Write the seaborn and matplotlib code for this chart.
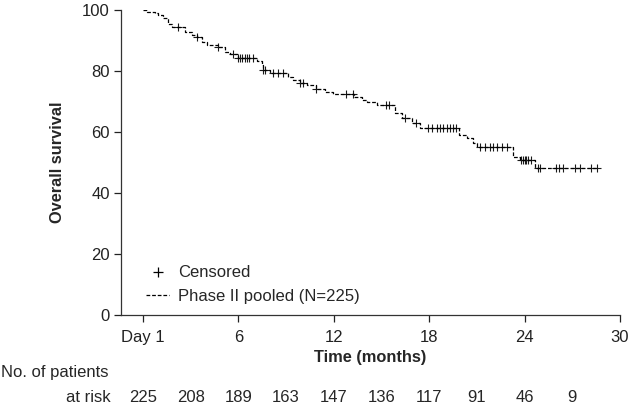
import pandas as pd
import matplotlib.pyplot as plt
import seaborn as sns
from matplotlib.lines import Line2D
import matplotlib.transforms as mtransforms

# Kaplan-Meier step curve (months, % surviving)
step_time = [0, 0.25, 0.75, 0.95, 1.26, 1.57, 1.82, 2.64, 3.08, 3.40, 3.71, 4.03,
             4.72, 5.16, 5.47, 5.97, 7.17, 7.48, 7.55, 8.0, 9.12, 9.43, 9.87,
             10.3, 10.9, 11.45, 11.95, 13.3, 13.8, 14.1, 14.7, 15.85, 16.3, 16.9,
             17.4, 19.9, 20.4, 20.75, 21.0, 23.3, 23.7, 24.65, 28.55]
step_surv = [100, 99.5, 99, 98.4, 97.4, 95.4, 94.4, 92.8, 91.8, 91.1, 89.5, 88.5,
             87.9, 86.2, 85.5, 84.3, 83.3, 82, 80.3, 79.3, 78, 77, 76,
             75.4, 74.2, 73.1, 72.4, 71.5, 70.5, 69.8, 68.9, 66.2, 64.6, 63,
             61.3, 59, 58, 56.4, 55.1, 51.8, 50.8, 48.2, 48.2]

# censored observations
cens_time = [2.2, 3.4, 4.72, 5.66, 5.97, 6.1, 6.23, 6.4, 6.54, 6.7, 6.9, 7.55, 7.7,
             8.2, 8.5, 8.8, 9.9, 10.1, 10.9, 12.8, 13.2, 15.3, 15.5, 16.5, 17.2,
             17.9, 18.2, 18.5, 18.7, 18.9, 19.1, 19.3, 19.5, 19.7,
             21.2, 21.5, 21.8, 22.0, 22.3, 22.6, 22.9,
             23.8, 23.9, 24.0, 24.1, 24.2, 24.4,
             24.85, 25.0, 26.0, 26.2, 26.4, 27.2, 27.5, 28.2, 28.55]
cens_surv = [94.4, 91.1, 87.9, 85.5, 84.3, 84.3, 84.3, 84.3, 84.3, 84.3, 84.3, 80.3, 80.3,
             79.3, 79.3, 79.3, 76, 76, 74.2, 72.4, 72.4, 68.9, 68.9, 64.6, 63,
             61.3, 61.3, 61.3, 61.3, 61.3, 61.3, 61.3, 61.3, 61.3,
             55.1, 55.1, 55.1, 55.1, 55.1, 55.1, 55.1,
             50.8, 50.8, 50.8, 50.8, 50.8, 50.8,
             48.2, 48.2, 48.2, 48.2, 48.2, 48.2, 48.2, 48.2, 48.2]

risk_time = [0, 3, 6, 9, 12, 15, 18, 21, 24, 27]
risk_n = [225, 208, 189, 163, 147, 136, 117, 91, 46, 9]

x_ticks = [0, 6, 12, 18, 24, 30]
x_ticklabels = ["Day 1", "6", "12", "18", "24", "30"]

FS = 12

sns.set_style("ticks")
plt.rcParams['font.family'] = ['Liberation Sans', 'DejaVu Sans']

fig = plt.figure(figsize=(6.3, 4.05), dpi=100)
ax = fig.add_axes([0.192, 0.222, 0.792, 0.753])

km = pd.DataFrame({"time": step_time, "surv": step_surv})
cens = pd.DataFrame({"time": cens_time, "surv": cens_surv})

sns.lineplot(data=km, x="time", y="surv", ax=ax, color="black", linewidth=0.9,
             drawstyle="steps-post", dashes=False, estimator=None, sort=False)
ax.lines[0].set_linestyle((0, (3, 1.5)))
sns.scatterplot(data=cens, x="time", y="surv", ax=ax, marker="+", s=32,
                color="#1a1a1a", linewidth=0.8)

ax.set_xlim(-1.38, 30)
ax.set_ylim(0, 100)
ax.set_xticks(x_ticks)
ax.set_xticklabels(x_ticklabels)
ax.set_yticks([0, 20, 40, 60, 80, 100])
ax.tick_params(labelsize=FS, length=5, width=0.9, colors="#222222", pad=3)
ax.tick_params(axis="x", pad=6)
for s in ["left", "bottom"]:
    ax.spines[s].set_linewidth(0.9)
    ax.spines[s].set_color("#333333")
sns.despine(ax=ax)

ax.set_xlabel("Time (months)", fontsize=11.8, fontweight="bold", labelpad=3)
ax.set_ylabel("Overall survival", fontsize=11.8, fontweight="bold", labelpad=12)

handles = [Line2D([], [], marker="+", linestyle="none", color="black", markersize=7,
                  markeredgewidth=0.9),
           Line2D([], [], linestyle=(0, (3, 1.5)), color="black", linewidth=0.9)]
ax.legend(handles, ["Censored", "Phase II pooled (N=225)"], loc="lower left",
          bbox_to_anchor=(0.02, -0.012), frameon=False, fontsize=FS,
          handlelength=1.4, handletextpad=0.55, labelspacing=0.5)

# number at risk table
trans = mtransforms.blended_transform_factory(ax.transData, fig.transFigure)
fig.text(0.002, 1 - 372 / 405, "No. of patients", fontsize=FS, va="center", ha="left")
fig.text(111 / 630, 1 - 398 / 405, "at risk", fontsize=FS, va="center", ha="right")
for t, n in zip(risk_time, risk_n):
    ax.text(t, 1 - 398 / 405, str(n), transform=trans, fontsize=FS,
            ha="center", va="center")

fig.savefig("out.png", dpi=100)
